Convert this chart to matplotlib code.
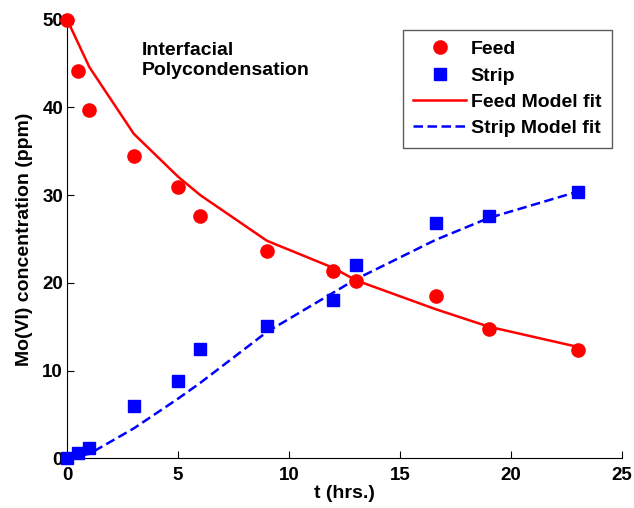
import matplotlib
matplotlib.use('Agg')
import matplotlib.pyplot as plt

plt.rcParams['font.family'] = ['Liberation Sans', 'DejaVu Sans']
plt.rcParams['font.weight'] = 'bold'

t = [0, 0.5, 1, 3, 5, 6, 9, 12, 13, 16.6, 19, 23]
feed = [50, 44.2, 39.7, 34.5, 30.9, 27.6, 23.6, 21.3, 20.2, 18.5, 14.7, 12.3]
strip = [0, 0.6, 1.2, 5.9, 8.8, 12.4, 15.1, 18.1, 22.0, 26.8, 27.6, 30.4]

t_fit = [0, 1, 3, 5, 6, 9, 12, 13, 16.6, 19, 23]
feed_fit = [50, 44.6, 37.0, 32.1, 30.0, 24.8, 21.7, 20.3, 17.0, 15.0, 12.7]
strip_fit = [0, 0.5, 3.4, 6.8, 8.6, 14.4, 18.9, 20.4, 24.9, 27.4, 30.4]

fig = plt.figure(figsize=(6.34, 5.08), dpi=100)
ax = fig.add_axes([0.106, 0.098, 0.875, 0.863])

ax.plot(t, feed, 'o', color='#ff0000', markersize=9.5, label='Feed', clip_on=False, zorder=3)
ax.plot(t, strip, 's', color='#0000ff', markersize=8, label='Strip', clip_on=False, zorder=3)
ax.plot(t_fit, feed_fit, '-', color='#ff0000', lw=1.8, label='Feed Model fit')
ax.plot(t_fit, strip_fit, '--', color='#0000ff', lw=1.8, dashes=(3.8, 1.8), label='Strip Model fit')

ax.set_xlim(0, 25)
ax.set_ylim(0, 50)
ax.set_xticks([0, 5, 10, 15, 20, 25])
ax.set_yticks([0, 10, 20, 30, 40, 50])
ax.tick_params(direction='in', labelsize=13.5, length=5)
ax.tick_params(axis='x', pad=6)
ax.tick_params(axis='y', pad=3)
for s in ['top', 'right']:
    ax.spines[s].set_visible(False)

ax.set_xlabel('t (hrs.)', fontsize=14, fontweight='bold', labelpad=1)
ax.set_ylabel('Mo(VI) concentration (ppm)', fontsize=14, fontweight='bold', labelpad=7)

ax.text(3.38, 45.4, 'Interfacial\nPolycondensation', fontsize=14, fontweight='bold',
        va='center', ha='left', linespacing=1.25)

leg = ax.legend(loc='upper right', bbox_to_anchor=(0.982, 0.977), fontsize=14, frameon=True,
                fancybox=False, edgecolor='#333333', handlelength=2.7, borderpad=0.55,
                labelspacing=0.45, handletextpad=0.25, borderaxespad=0)
leg.get_frame().set_linewidth(1.0)

fig.savefig('out.png', dpi=100)
